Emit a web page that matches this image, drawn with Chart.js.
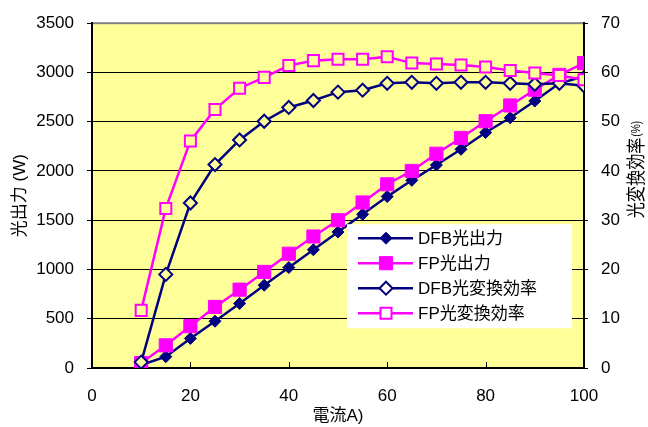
<!DOCTYPE html>
<html>
<head>
<meta charset="utf-8">
<script src="https://cdn.jsdelivr.net/npm/chart.js@4.4.1/dist/chart.umd.min.js"></script>
<style>
    html, body { margin: 0; padding: 0; background: #fff; }
    #wrap { width: 648px; height: 427px; }
</style>
</head>
<body>
<div id="wrap"><canvas id="chart" width="648" height="427"></canvas></div>
<script>
// Data
const currents = [10, 15, 20, 25, 30, 35, 40, 45, 50, 55, 60, 65, 70, 75, 80, 85, 90, 95, 100];
const dfbPower = [30, 115, 300, 475, 655, 840, 1020, 1200, 1380, 1560, 1740, 1905, 2060, 2220, 2390, 2540, 2710, 2890, 2960];
const fpPower  = [50, 230, 425, 620, 795, 975, 1160, 1335, 1500, 1680, 1865, 2000, 2175, 2335, 2505, 2665, 2825, 2975, 3095];
const dfbEff   = [1.2, 19.0, 33.5, 41.3, 46.3, 50.1, 52.9, 54.3, 56.0, 56.4, 57.8, 58.0, 57.8, 58.0, 58.0, 57.8, 57.6, 57.8, 57.3];
const fpEff    = [11.7, 32.4, 46.1, 52.5, 56.8, 59.0, 61.4, 62.4, 62.7, 62.7, 63.2, 61.9, 61.7, 61.5, 61.1, 60.4, 59.9, 59.4, 58.5];

const currentTicks = [0, 20, 40, 60, 80, 100];
const powerTicks = [0, 500, 1000, 1500, 2000, 2500, 3000, 3500];
const effTicks = [0, 10, 20, 30, 40, 50, 60, 70];

const labels = ['DFB光出力', 'FP光出力', 'DFB光変換効率', 'FP光変換効率'];
const xTitle = '電流A)';
const leftTitle = '光出力 (W)';
const rightTitle = '光変換効率';
const rightTitleUnit = '(%)';

const FONT = "'Liberation Sans', Arial, 'Noto Sans CJK JP', sans-serif";
const NAVY = '#000080';
const PINK = '#FF00FF';
const PLOT_BG = '#FFFF99';

function pts(values) {
    return currents.map((c, i) => ({ x: c, y: values[i] }));
}

function lineSet(label, values, axis, color, style, radius, fill, borderWidth, order) {
    return {
        label: label,
        data: pts(values),
        yAxisID: axis,
        borderColor: color,
        backgroundColor: color,
        borderWidth: 2.5,
        tension: 0,
        pointStyle: style,
        pointRadius: radius,
        pointHoverRadius: radius,
        pointBackgroundColor: fill,
        pointBorderColor: color,
        pointBorderWidth: borderWidth,
        order: order
    };
}

const datasets = [
    lineSet(labels[0], dfbPower, 'yPower', NAVY, 'rectRot', 6, NAVY, 1, 4),
    lineSet(labels[1], fpPower, 'yPower', PINK, 'rect', 9.3, PINK, 1, 3),
    lineSet(labels[2], dfbEff, 'yEff', NAVY, 'rectRot', 6.5, PLOT_BG, 2, 2),
    lineSet(labels[3], fpEff, 'yEff', PINK, 'rect', 7.8, PLOT_BG, 2, 1)
];

// plot background, frame, inward x ticks, legend and right title
const plotDecor = {
    id: 'plotDecor',
    beforeDraw(chart) {
        const { ctx, chartArea: a } = chart;
        ctx.save();
        ctx.fillStyle = '#fff';
        ctx.fillRect(0, 0, chart.width, chart.height);
        ctx.fillStyle = PLOT_BG;
        ctx.fillRect(a.left, a.top, a.right - a.left, a.bottom - a.top);
        ctx.strokeStyle = '#808080';
        ctx.lineWidth = 2;
        ctx.strokeRect(a.left, a.top, a.right - a.left, a.bottom - a.top);
        ctx.restore();
    },
    beforeDatasetsDraw(chart) {
        const { ctx, chartArea: a } = chart;
        const x = chart.scales.x;
        ctx.save();
        ctx.strokeStyle = '#000';
        ctx.lineWidth = 1;
        x.ticks.forEach(t => {
            const px = Math.round(x.getPixelForValue(t.value)) + 0.5;
            ctx.beginPath();
            ctx.moveTo(px, a.bottom);
            ctx.lineTo(px, a.bottom - 6);
            ctx.stroke();
        });
        ctx.restore();
    },
    afterDraw(chart) {
        const ctx = chart.ctx;
        const a = chart.chartArea;

        // legend box inside the plot
        const boxX = a.left + 255, boxY = a.top + 201;
        ctx.save();
        ctx.fillStyle = '#fff';
        ctx.fillRect(boxX, boxY, 225, 104);
        chart.data.datasets.forEach((ds, i) => {
            const y = boxY + 14 + i * 25;
            ctx.strokeStyle = ds.borderColor;
            ctx.lineWidth = ds.borderWidth;
            ctx.beginPath();
            ctx.moveTo(boxX + 11, y);
            ctx.lineTo(boxX + 66, y);
            ctx.stroke();
            ctx.fillStyle = ds.pointBackgroundColor === PLOT_BG ? '#fff' : ds.pointBackgroundColor;
            ctx.strokeStyle = ds.pointBorderColor;
            ctx.lineWidth = ds.pointBorderWidth;
            Chart.helpers.drawPoint(ctx, {
                pointStyle: ds.pointStyle,
                radius: ds.pointRadius,
                borderWidth: ds.pointBorderWidth,
                rotation: 0
            }, boxX + 39, y);
            ctx.fillStyle = '#000';
            ctx.font = '17px ' + FONT;
            ctx.textAlign = 'left';
            ctx.textBaseline = 'middle';
            ctx.fillText(ds.label, boxX + 71, y + 1);
        });
        ctx.restore();

        // right axis title, reading bottom to top like the left one
        ctx.save();
        ctx.translate(638, 170);
        ctx.rotate(-Math.PI / 2);
        ctx.scale(0.85, 1);
        ctx.fillStyle = '#000';
        ctx.textBaseline = 'middle';
        ctx.font = '19px ' + FONT;
        const w1 = ctx.measureText(rightTitle).width;
        ctx.font = '12px ' + FONT;
        const w2 = ctx.measureText(rightTitleUnit).width;
        const sx = -(w1 + w2) / 2;
        ctx.textAlign = 'left';
        ctx.font = '19px ' + FONT;
        ctx.fillText(rightTitle, sx, 0);
        ctx.font = '12px ' + FONT;
        ctx.fillText(rightTitleUnit, sx + w1 + 1, -1);
        ctx.restore();
    }
};

new Chart(document.getElementById('chart'), {
    type: 'line',
    data: { datasets: datasets },
    plugins: [plotDecor],
    options: {
        responsive: false,
        animation: false,
        devicePixelRatio: 1,
        layout: { padding: { top: 21, left: 0, right: 0, bottom: 0 } },
        plugins: {
            legend: { display: false },
            tooltip: { enabled: false }
        },
        scales: {
            x: {
                type: 'linear',
                position: 'bottom',
                min: currentTicks[0],
                max: currentTicks[currentTicks.length - 1],
                afterFit: s => { s.height = 59; },
                ticks: {
                    stepSize: currentTicks[1] - currentTicks[0],
                    padding: 18,
                    color: '#000',
                    font: { family: FONT, size: 17 },
                    callback: v => String(v)
                },
                grid: { display: false, drawTicks: false },
                border: { display: true, color: '#000', width: 2 },
                title: {
                    display: true,
                    text: xTitle,
                    color: '#000',
                    font: { family: FONT, size: 17 },
                    padding: { top: 0, bottom: 0 }
                }
            },
            yPower: {
                type: 'linear',
                position: 'left',
                min: powerTicks[0],
                max: powerTicks[powerTicks.length - 1],
                afterFit: s => { s.width = 92; },
                ticks: {
                    stepSize: powerTicks[1] - powerTicks[0],
                    padding: 13,
                    color: '#000',
                    font: { family: FONT, size: 17 },
                    callback: v => String(v)
                },
                grid: {
                    color: ctx => (ctx.tick && ctx.tick.value === powerTicks[powerTicks.length - 1]) ? 'rgba(0,0,0,0)' : '#000',
                    tickColor: '#000',
                    lineWidth: 1,
                    tickLength: 5
                },
                border: { display: true, color: '#000', width: 2 },
                title: {
                    display: true,
                    text: leftTitle,
                    color: '#000',
                    font: { family: FONT, size: 17 },
                    padding: { top: 10, bottom: 0 }
                }
            },
            yEff: {
                type: 'linear',
                position: 'right',
                min: effTicks[0],
                max: effTicks[effTicks.length - 1],
                afterFit: s => { s.width = 64; },
                ticks: {
                    stepSize: effTicks[1] - effTicks[0],
                    padding: 13,
                    color: '#000',
                    font: { family: FONT, size: 17 },
                    callback: v => String(v)
                },
                grid: {
                    drawOnChartArea: false,
                    tickColor: '#000',
                    tickLength: 4
                },
                border: { display: true, color: '#000', width: 2 }
            }
        }
    }
});
</script>
</body>
</html>
